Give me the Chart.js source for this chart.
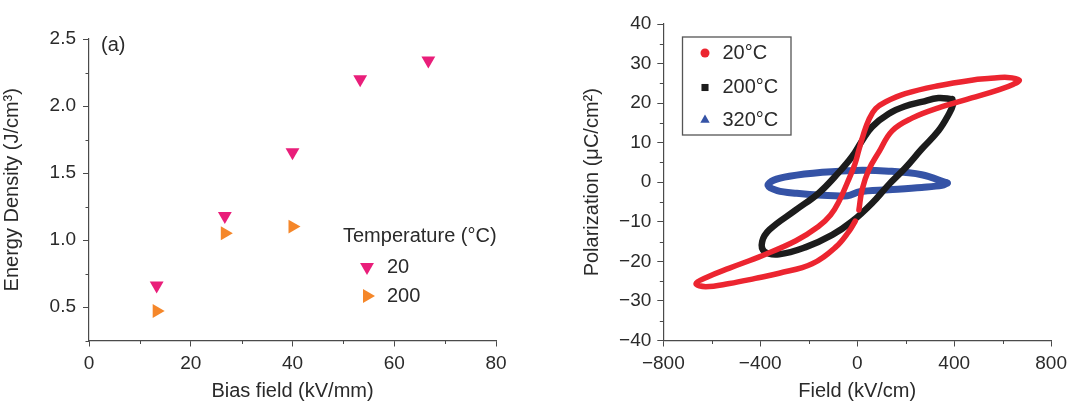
<!DOCTYPE html>
<html>
<head>
<meta charset="utf-8">
<script src="https://cdn.jsdelivr.net/npm/chart.js@4/dist/chart.umd.min.js"></script>
<style>
  html, body { margin: 0; padding: 0; background: #fff; }
  body { width: 1073px; height: 403px; position: relative; overflow: hidden; }
  canvas { position: absolute; top: 0; }
</style>
</head>
<body>
<canvas id="energyChart" width="540" height="403" style="left:0"></canvas>
<canvas id="loopChart" width="533" height="403" style="left:540px"></canvas>
<script>
// energy density vs bias field
var biasField = [13.3, 26.7, 40, 53.3, 66.7];
var energy20 = [0.66, 1.18, 1.655, 2.2, 2.34];
var biasField200 = [13.3, 26.7, 40];
var energy200 = [0.47, 1.05, 1.1];

// P-E loops (field kV/cm, polarization uC/cm2)
var field20 = [7, 20, 48, 89, 144, 226, 335, 472, 580, 645, 668, 620, 540, 472, 335, 198, 120, 76, 48, 25, 7, -10, -40, -75, -110, -160, -253, -390, -527, -620, -665, -625, -527, -420, -322, -186, -89, -34, -8];
var pol20 = [-7, -1.9, 3.2, 7.6, 13.0, 16.2, 18.8, 21.3, 23.3, 24.8, 25.8, 26.5, 26.2, 25.8, 24.4, 22.4, 20.4, 18.6, 15.8, 12.0, 8.2, 4.5, 0, -4.8, -8.3, -11.2, -14.8, -18.5, -21.7, -24.0, -25.6, -26.4, -25.6, -24.3, -23.0, -20.6, -16.4, -12.4, -9.8];
var field200 = [392, 335, 266, 198, 130, 61, 20, -21, -76, -158, -253, -362, -392, -383, -322, -212, -103, -21, 61, 130, 198, 266, 335, 376, 396, 392];
var pol200 = [21.0, 21.3, 20.3, 19.2, 17.3, 14.0, 10.5, 6.5, 2.5, -2.7, -7.0, -12.0, -15.0, -17.5, -18.2, -16.4, -13.3, -9.9, -5.3, -0.6, 3.6, 8.4, 13.0, 17.0, 19.8, 21.0];
var field320 = [372, 266, 130, -7, -144, -280, -345, -368, -330, -250, -144, -40, 10, 130, 266, 350, 372];
var pol320 = [-0.2, 1.9, 2.8, 3.0, 2.5, 1.5, 0.5, -0.8, -2.1, -2.8, -3.3, -3.4, -2.4, -1.9, -1.3, -0.8, -0.2];

var textColor = '#2a2a2a';
var axisColor = '#4a4a4a';
var fontFamily = '"Liberation Sans", Arial, Helvetica, sans-serif';

Chart.defaults.font.family = fontFamily;
Chart.defaults.color = textColor;

function pts(xs, ys) {
  return xs.map(function(x, i) { return {x: x, y: ys[i]}; });
}

function isMajor(v, step) {
  return Math.abs(v / step - Math.round(v / step)) < 1e-6;
}

function minus(v) {
  return v < 0 ? '\u2212' + Math.abs(v) : '' + v;
}

// short unlabeled ticks between the labeled ones
var minorTicks = {
  id: 'minorTicks',
  afterDraw: function(chart, args, opts) {
    var ctx = chart.ctx;
    ctx.save();
    ctx.strokeStyle = axisColor;
    ctx.lineWidth = 1;
    ['x', 'y'].forEach(function(id) {
      var scale = chart.scales[id];
      scale.ticks.forEach(function(t) {
        if (isMajor(t.value, opts[id])) return;
        var p = Math.round(scale.getPixelForValue(t.value)) + 0.5;
        ctx.beginPath();
        if (id === 'x') {
          ctx.moveTo(p, chart.chartArea.bottom);
          ctx.lineTo(p, chart.chartArea.bottom + 3.5);
        } else {
          ctx.moveTo(chart.chartArea.left, p);
          ctx.lineTo(chart.chartArea.left - 3.5, p);
        }
        ctx.stroke();
      });
    });
    ctx.restore();
  }
};

function axis(min, max, step, major, fmt, title, fitSize, pad) {
  return {
    type: 'linear',
    min: min,
    max: max,
    ticks: {
      stepSize: step,
      autoSkip: false,
      maxRotation: 0,
      padding: pad,
      font: {size: 19},
      color: textColor,
      callback: function(v) { return isMajor(v, major) ? fmt(v) : ''; }
    },
    grid: {
      drawOnChartArea: false,
      tickLength: 6,
      tickWidth: 1,
      tickColor: function(c) { return c.tick && isMajor(c.tick.value, major) ? axisColor : 'rgba(0,0,0,0)'; }
    },
    border: {color: axisColor, width: 1.2},
    title: {display: true, text: title, font: {size: 20}, color: textColor, padding: {top: 0, bottom: 0}},
    afterFit: fitSize
  };
}

// legend for the energy panel
var tempLegend = {
  id: 'tempLegend',
  afterDraw: function(chart) {
    var ctx = chart.ctx;
    ctx.save();
    ctx.font = '20px ' + fontFamily;
    ctx.fillStyle = textColor;
    ctx.textBaseline = 'middle';
    ctx.fillText('(a)', 101, 45);
    ctx.fillText('Temperature (\u00b0C)', 343, 236);
    chart.data.datasets.forEach(function(ds, i) {
      var y = 267 + i * 29;
      ctx.fillStyle = ds.backgroundColor;
      Chart.helpers.drawPoint(ctx, {pointStyle: ds.pointStyle, rotation: ds.pointRotation, radius: 8, borderWidth: 0}, 367, y);
      ctx.fillStyle = textColor;
      ctx.fillText(ds.label, 387, y);
    });
    ctx.restore();
  }
};

new Chart(document.getElementById('energyChart'), {
  type: 'scatter',
  data: {
    datasets: [{
      label: '20',
      data: pts(biasField, energy20),
      pointStyle: 'triangle',
      pointRotation: 180,
      pointRadius: 8,
      backgroundColor: '#e91e7a',
      borderWidth: 0
    }, {
      label: '200',
      data: pts(biasField200, energy200),
      pointStyle: 'triangle',
      pointRotation: 90,
      pointRadius: 8,
      backgroundColor: '#f5872a',
      borderWidth: 0
    }]
  },
  options: {
    responsive: false,
    animation: false,
    layout: {padding: {top: 39, right: 44, left: 0, bottom: 0}},
    plugins: {legend: {display: false}, tooltip: {enabled: false}, minorTicks: {x: 20, y: 0.5}},
    scales: {
      x: axis(0, 80, 10, 20, function(v) { return '' + v; }, 'Bias field (kV/mm)', function(s) { s.height = 62.5; }, 6),
      y: axis(0.25, 2.5, 0.25, 0.5, function(v) { return v.toFixed(1); }, 'Energy Density (J/cm\u00b3)', function(s) { s.width = 89; }, 7)
    }
  },
  plugins: [minorTicks, tempLegend]
});

// boxed legend for the loop panel
var boxLegend = {
  id: 'boxLegend',
  afterDraw: function(chart) {
    var ctx = chart.ctx;
    ctx.save();
    ctx.strokeStyle = '#555';
    ctx.lineWidth = 1.3;
    ctx.strokeRect(142.5, 37, 108.5, 98);
    ctx.font = '20px ' + fontFamily;
    ctx.textBaseline = 'middle';
    var rows = [53, 87.5, 120];
    var sizes = [4.5, 5, 5.4];
    chart.data.datasets.forEach(function(ds, i) {
      ctx.fillStyle = ds.borderColor;
      Chart.helpers.drawPoint(ctx, {pointStyle: ds.pointStyle, rotation: 0, radius: sizes[i], borderWidth: 0}, 165, rows[i]);
      ctx.fillStyle = textColor;
      ctx.fillText(ds.label, 182.5, rows[i]);
    });
    ctx.restore();
  }
};

function loop(label, xs, ys, color, style, width, tension) {
  return {
    label: label,
    data: pts(xs, ys),
    showLine: true,
    borderColor: color,
    backgroundColor: color,
    borderWidth: width,
    borderCapStyle: 'round',
    borderJoinStyle: 'round',
    tension: tension,
    pointRadius: 0,
    pointStyle: style
  };
}

new Chart(document.getElementById('loopChart'), {
  type: 'scatter',
  data: {
    datasets: [
      loop('20\u00b0C', field20, pol20, '#ec2530', 'circle', 5.5, 0.4),
      loop('200\u00b0C', field200, pol200, '#1c1c1c', 'rect', 6.5, 0.4),
      loop('320\u00b0C', field320, pol320, '#3553a6', 'triangle', 7, 0.35)
    ]
  },
  options: {
    responsive: false,
    animation: false,
    layout: {padding: {top: 24, right: 20, left: 0, bottom: 0}},
    plugins: {legend: {display: false}, tooltip: {enabled: false}, minorTicks: {x: 400, y: 10}},
    scales: {
      x: axis(-800, 800, 200, 400, minus, 'Field (kV/cm)', function(s) { s.height = 62.5; }, 6),
      y: (function() {
        var a = axis(-40, 40, 5, 10, minus, 'Polarization (\u03bcC/cm\u00b2)', function(s) { s.width = 123.3; }, 6);
        a.title.padding = {top: 40, bottom: 0};
        return a;
      })()
    }
  },
  plugins: [minorTicks, boxLegend]
});
</script>
</body>
</html>
